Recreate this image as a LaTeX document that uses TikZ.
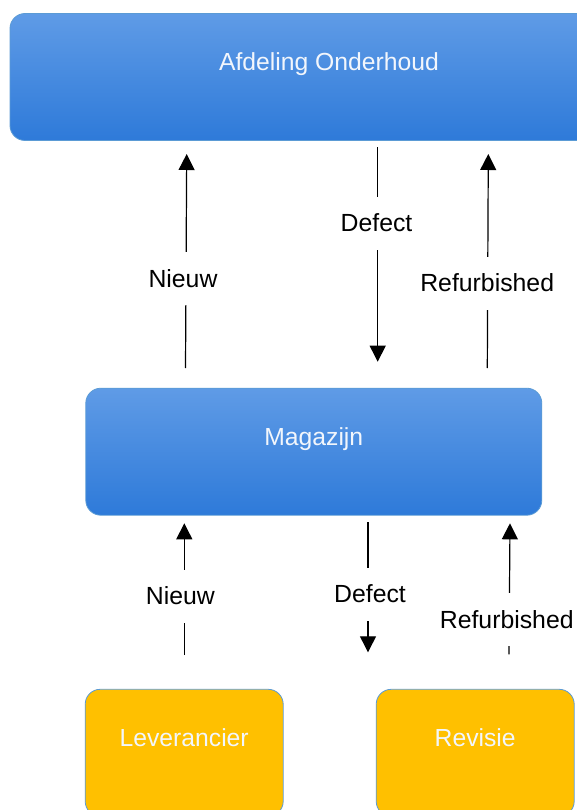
\documentclass[tikz,border=0pt]{standalone}
\usepackage{fontspec}
\setmainfont{Liberation Sans}
\usetikzlibrary{arrows.meta}
\definecolor{bluetop}{HTML}{5F9BE6}
\definecolor{bluebot}{HTML}{2E7AD9}
\definecolor{boxline}{HTML}{5B9BD5}
\definecolor{orangefill}{HTML}{FFC000}
\definecolor{boxtext}{HTML}{F2F6FC}
\tikzset{
  bluebox/.style={draw=boxline, line width=0.8pt, rounded corners=15pt,
    top color=bluetop, bottom color=bluebot, text=boxtext,
    font=\fontsize{24.7}{28}\selectfont, text height=17pt, text depth=30pt,
    inner sep=0pt},
  orangebox/.style={draw=boxline, line width=0.8pt, rounded corners=15pt,
    fill=orangefill, text=boxtext,
    font=\fontsize{24.7}{28}\selectfont, text height=17pt, text depth=30pt,
    inner sep=0pt},
  arr/.style={line width=1.2pt, -{Triangle[length=16pt,width=16pt]}},
  lbl/.style={fill=white, font=\fontsize{24.8}{28}\selectfont,
    text height=17pt, text depth=0pt, inner ysep=18pt, inner xsep=1pt}
}
\begin{document}
\begin{tikzpicture}[x=1pt,y=-1pt]
\clip (0,0) rectangle (577,810);
\fill[white] (0,0) rectangle (577,810);
% boxes
\node[bluebox, minimum width=638pt, minimum height=127pt] (ond) at (329,77) {Afdeling Onderhoud};
\node[bluebox, minimum width=456pt, minimum height=127pt] (mag) at (313.8,451.7) {Magazijn};
\node[orangebox, minimum width=198pt, minimum height=127pt] (lev) at (184.2,752.8) {Leverancier};
\node[orangebox, minimum width=198pt, minimum height=127pt] (rev) at (475.2,752.8) {Revisie};
% connector ends
\coordinate (n1s) at (185.5,368);   \coordinate (n1e) at (186.7,154);
\coordinate (d1s) at (377.7,147.3); \coordinate (d1e) at (377.7,361.7);
\coordinate (r1s) at (487.3,368);   \coordinate (r1e) at (488.3,154);
\coordinate (n2s) at (184.3,655);   \coordinate (n2e) at (184.3,523.3);
\coordinate (d2s) at (368,522.3);   \coordinate (d2e) at (368,652.3);
\coordinate (r2s) at (509,654.3);   \coordinate (r2e) at (510,523.3);
% connectors
\draw[arr] (n1s) -- node[lbl, pos=0.416, xshift=-3pt] {Nieuw} (n1e);
\draw[arr] (d1s) -- node[lbl, pos=0.355, xshift=-1.2pt] {Defect} (d1e);
\draw[arr] (r1s) -- node[lbl, pos=0.396, xshift=-0.5pt] {Refurbished} (r1e);
\draw[arr] (n2s) -- node[lbl, pos=0.448, xshift=-4pt] {Nieuw} (n2e);
\draw[arr] (d2s) -- node[lbl, pos=0.552, xshift=2pt] {Defect} (d2e);
\draw[arr] (r2s) -- node[lbl, pos=0.264, xshift=-2.5pt] {Refurbished} (r2e);
\end{tikzpicture}
\end{document}
